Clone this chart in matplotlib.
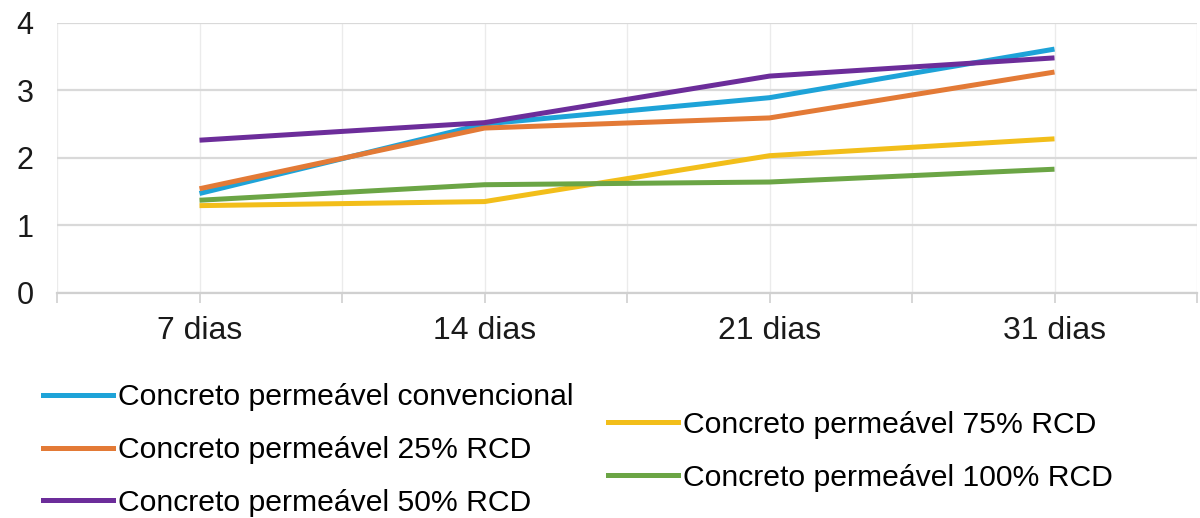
import matplotlib
matplotlib.use("Agg")
import matplotlib.pyplot as plt
from matplotlib.lines import Line2D

plt.rcParams["font.family"] = ["Liberation Sans", "DejaVu Sans"]

categories = ["7 dias", "14 dias", "21 dias", "31 dias"]
labels = [
    "Concreto permeável convencional",
    "Concreto permeável 25% RCD",
    "Concreto permeável 50% RCD",
    "Concreto permeável 75% RCD",
    "Concreto permeável 100% RCD",
]
convencional = [1.47, 2.50, 2.89, 3.61]
rcd25 = [1.54, 2.44, 2.59, 3.27]
rcd50 = [2.26, 2.52, 3.21, 3.48]
rcd75 = [1.29, 1.35, 2.03, 2.28]
rcd100 = [1.37, 1.60, 1.64, 1.83]

BLUE = "#1EA3D8"; ORANGE = "#E37A36"; PURPLE = "#6C2D9A"
YELLOW = "#F2BE1A"; GREEN = "#6BA545"
series = [convencional, rcd25, rcd50, rcd75, rcd100]
colors = [BLUE, ORANGE, PURPLE, YELLOW, GREEN]

fig = plt.figure(figsize=(12, 5.18), dpi=100, facecolor="white")
ax = fig.add_axes([0.0475, 0.435, 0.95, 0.521])

# categories sit on every other slot of the axis, as in the original
pos = [2 * i + 1 for i in range(len(categories))]
handles = []
for vals, col, lbl in zip(series, colors, labels):
    ax.plot(pos, vals, color=col, lw=3.6, solid_capstyle="butt", zorder=3)
    handles.append(Line2D([], [], color=col, lw=3.6, label=lbl))

ax.set_xlim(0, 2 * len(categories))
ax.set_ylim(0, 4)
ax.set_yticks([0, 1, 2, 3, 4])
ax.set_xticks(range(2 * len(categories) + 1))
xlabels = [""] * (2 * len(categories) + 1)
for p, c in zip(pos, categories):
    xlabels[p] = c
ax.set_xticklabels(xlabels, fontsize=23)
ax.tick_params(axis="y", length=0, pad=17, labelsize=22, labelcolor="#1a1a1a")
ax.tick_params(axis="x", length=7, width=1.2, color="#CFCFCF", pad=10, labelcolor="#1a1a1a")

ax.grid(axis="y", color="#D9D9D9", lw=1.6, zorder=0)
ax.grid(axis="x", color="#EBEBEB", lw=1.0, zorder=0)
for s in ["top", "right", "left"]:
    ax.spines[s].set_visible(False)
ax.spines["bottom"].set_color("#D0D0D0")
ax.spines["bottom"].set_linewidth(1.6)

common = dict(frameon=False, fontsize=21.7, handlelength=2.3, handletextpad=0.18,
              borderpad=0, borderaxespad=0, labelspacing=0.82, loc="center left")
fig.legend(handles=handles[:3], bbox_to_anchor=(0.036, 0.131), **common)
fig.legend(handles=handles[3:], bbox_to_anchor=(0.507, 0.129), **common)

fig.savefig("out.png", dpi=100, facecolor="white")
